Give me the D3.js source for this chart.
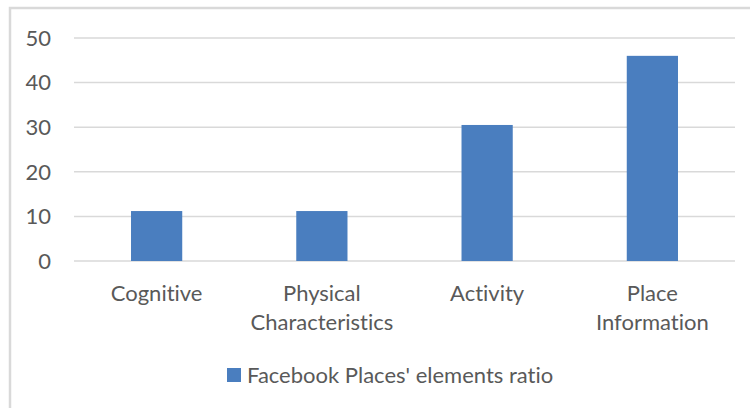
<!DOCTYPE html>
<meta charset="utf-8">
<style>
body { margin: 0; background: #fff; }
svg { display: block; }
text { font-family: Lato, "Open Sans", sans-serif; fill: #595959; font-variant-ligatures: none; }
.grid line { stroke: #d9d9d9; stroke-width: 1.5px; }
</style>
<svg width="750" height="408"></svg>
<script src="https://d3js.org/d3.v7.min.js"></script>
<script>
var categories = [["Cognitive"], ["Physical", "Characteristics"], ["Activity"], ["Place", "Information"]];
var values = [11.2, 11.2, 30.5, 46.0];
var yTicks = [0, 10, 20, 30, 40, 50];
var seriesName = "Facebook Places' elements ratio";

var svg = d3.select("svg");
var plotLeft = 74, plotRight = 735, plotTop = 38, plotBottom = 261;

// chart frame
svg.append("rect")
    .attr("x", 10).attr("y", 8)
    .attr("width", 760).attr("height", 420)
    .attr("fill", "none")
    .attr("stroke", "#d9d9d9")
    .attr("stroke-width", 2.5);

var x = d3.scaleBand()
    .domain(d3.range(categories.length))
    .range([plotLeft, plotRight]);

var y = d3.scaleLinear()
    .domain([0, 50])
    .range([plotBottom, plotTop]);

var grid = svg.append("g").attr("class", "grid");
grid.selectAll("line")
    .data(yTicks)
    .enter().append("line")
    .attr("x1", plotLeft).attr("x2", plotRight)
    .attr("y1", function(d) { return y(d); })
    .attr("y2", function(d) { return y(d); });

svg.selectAll(".ytick")
    .data(yTicks)
    .enter().append("text")
    .attr("class", "ytick")
    .attr("x", 51)
    .attr("y", function(d) { return y(d); })
    .attr("dy", "0.35em")
    .attr("text-anchor", "end")
    .style("font-size", "22px")
    .text(function(d) { return d; });

var barW = x.bandwidth() * 0.31;
svg.selectAll(".bar")
    .data(values)
    .enter().append("rect")
    .attr("class", "bar")
    .attr("x", function(d, i) { return x(i) + x.bandwidth() / 2 - barW / 2; })
    .attr("y", function(d) { return y(d); })
    .attr("width", barW)
    .attr("height", function(d) { return y(0) - y(d); })
    .attr("fill", "#4a7ebf");

var cat = svg.selectAll(".cat")
    .data(categories)
    .enter().append("text")
    .attr("class", "cat")
    .attr("text-anchor", "middle")
    .attr("transform", function(d, i) { return "translate(" + (x(i) + x.bandwidth() / 2) + ",293)"; })
    .style("font-size", "22px");

cat.selectAll("tspan")
    .data(function(d) { return d; })
    .enter().append("tspan")
    .attr("x", 0)
    .attr("y", function(d, i) { return i * 29; })
    .attr("dy", "0.35em")
    .text(function(d) { return d; });

svg.append("rect")
    .attr("x", 227).attr("y", 368)
    .attr("width", 14).attr("height", 14)
    .attr("fill", "#4a7ebf");

svg.append("text")
    .attr("x", 247).attr("y", 375)
    .attr("dy", "0.35em")
    .style("font-size", "22px")
    .text(seriesName);
</script>
